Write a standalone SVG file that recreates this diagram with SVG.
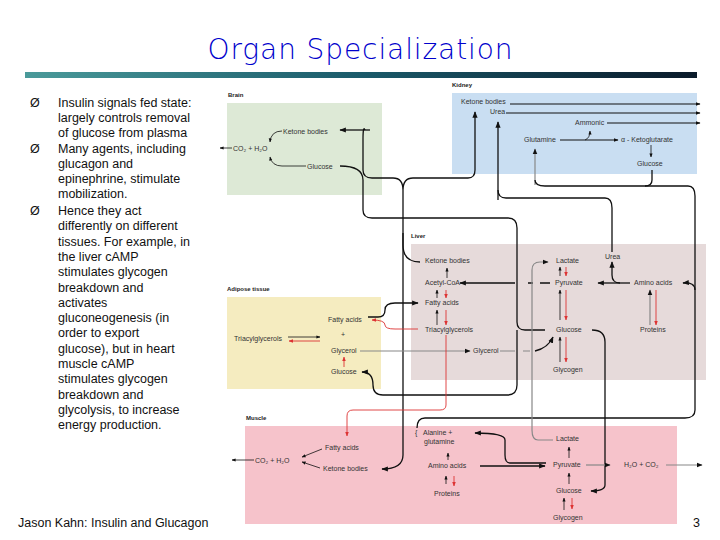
<svg xmlns="http://www.w3.org/2000/svg" width="720" height="540" viewBox="0 0 720 540">
<defs>
<marker id="a" viewBox="0 0 10 10" refX="9" refY="5" markerWidth="5" markerHeight="5" orient="auto"><path d="M0,1 L10,5 L0,9 z" fill="#111"/></marker>
<marker id="r" viewBox="0 0 10 10" refX="9" refY="5" markerWidth="5" markerHeight="5" orient="auto"><path d="M0,1 L10,5 L0,9 z" fill="#d33"/></marker>
<linearGradient id="bar" x1="0" x2="1"><stop offset="0" stop-color="#4a9a9a"/><stop offset="0.5" stop-color="#1a5a6a"/><stop offset="1" stop-color="#0a1a2a"/></linearGradient>
</defs>
<style>
.t{font-family:"Liberation Sans",Arial,sans-serif;font-size:12.5px;fill:#111}
.d{font-family:"Liberation Sans",Arial,sans-serif;font-size:7px;fill:#333}
.l{font-family:"Liberation Sans",Arial,sans-serif;font-size:6px;font-weight:bold;fill:#222}
.c{fill:none;stroke:#111;stroke-width:1.3}
.k{fill:none;stroke:#111;stroke-width:1}
.g{fill:none;stroke:#888;stroke-width:1.2}
.s{fill:none;stroke:#111;stroke-width:0.8}
.rd{fill:none;stroke:#d33;stroke-width:0.9}
</style>
<rect width="720" height="540" fill="#fff"/>
<text x="360" y="59" text-anchor="middle" font-family="DejaVu Sans,sans-serif" font-size="28" font-weight="300" fill="#0000cc" textLength="305">Organ Specialization</text>
<rect x="25" y="72" width="672" height="6" fill="url(#bar)"/>
<g class="t">
<text x="30" y="107">Ø</text><text x="30" y="153">Ø</text><text x="30" y="215">Ø</text>
<text x="58" y="107">Insulin signals fed state:</text>
<text x="58" y="122">largely controls removal</text>
<text x="58" y="137">of glucose from plasma</text>
<text x="58" y="153">Many agents, including</text>
<text x="58" y="168">glucagon and</text>
<text x="58" y="183">epinephrine, stimulate</text>
<text x="58" y="198">mobilization.</text>
<text x="58" y="215">Hence they act</text>
<text x="58" y="230">differently on different</text>
<text x="58" y="246">tissues. For example, in</text>
<text x="58" y="261">the liver cAMP</text>
<text x="58" y="276">stimulates glycogen</text>
<text x="58" y="292">breakdown and</text>
<text x="58" y="307">activates</text>
<text x="58" y="322">gluconeogenesis (in</text>
<text x="58" y="337">order to export</text>
<text x="58" y="353">glucose), but in heart</text>
<text x="58" y="368">muscle cAMP</text>
<text x="58" y="383">stimulates glycogen</text>
<text x="58" y="399">breakdown and</text>
<text x="58" y="414">glycolysis, to increase</text>
<text x="58" y="429">energy production.</text>
<text x="18" y="527">Jason Kahn: Insulin and Glucagon</text>
<text x="693" y="527">3</text>
</g>
<g id="brain"><rect x="227" y="103" width="155" height="92" fill="#dde9d6"/><text class="l" x="228" y="97">Brain</text>
<text class="d" x="283" y="134">Ketone bodies</text><text class="d" x="233" y="151">CO₂ + H₂O</text><text class="d" x="307" y="169">Glucose</text></g>
<g id="kidney"><rect x="452" y="93" width="245" height="81" fill="#c9def2"/><text class="l" x="452" y="87">Kidney</text>
<text class="d" x="461" y="104">Ketone bodies</text><text class="d" x="490" y="114">Urea</text><text class="d" x="575" y="125">Ammonic</text><text class="d" x="524" y="142">Glutamine</text><text class="d" x="621" y="142">α - Ketoglutarate</text><text class="d" x="637" y="166">Glucose</text></g>
<g id="liver"><rect x="411" y="244" width="295" height="136" fill="#e6dada"/><text class="l" x="411" y="238">Liver</text>
<text class="d" x="425" y="263">Ketone bodies</text><text class="d" x="425" y="285">Acetyl-CoA</text><text class="d" x="425" y="305">Fatty acids</text><text class="d" x="425" y="332">Triacylglycerols</text>
<text class="d" x="556" y="263">Lactate</text><text class="d" x="555" y="285">Pyruvate</text><text class="d" x="556" y="332">Glucose</text><text class="d" x="553" y="372">Glycogen</text>
<text class="d" x="605" y="259">Urea</text><text class="d" x="634" y="285">Amino acids</text><text class="d" x="640" y="332">Proteins</text><text class="d" x="473" y="353">Glycerol</text></g>
<g id="adipose"><rect x="227" y="297" width="154" height="92" fill="#f5ecc0"/><text class="l" x="227" y="291">Adipose tissue</text>
<text class="d" x="328" y="322">Fatty acids</text><text class="d" x="341" y="337">+</text><text class="d" x="234" y="341">Triacylglycerols</text><text class="d" x="331" y="353">Glycerol</text><text class="d" x="331" y="374">Glucose</text></g>
<g id="muscle"><rect x="245" y="426" width="432" height="98" fill="#f6c3cb"/><text class="l" x="246" y="420">Muscle</text>
<text class="d" x="325" y="450">Fatty acids</text><text class="d" x="255" y="463">CO₂ + H₂O</text><text class="d" x="323" y="471">Ketone bodies</text>
<text class="d" x="415" y="435">{</text><text class="d" x="423" y="435">Alanine +</text><text class="d" x="424" y="444">glutamine</text><text class="d" x="428" y="468">Amino acids</text><text class="d" x="434" y="496">Proteins</text>
<text class="d" x="556" y="441">Lactate</text><text class="d" x="553" y="467">Pyruvate</text><text class="d" x="624" y="467">H₂O + CO₂</text><text class="d" x="556" y="493">Glucose</text><text class="d" x="553" y="520">Glycogen</text></g>
<g id="connectors">
<path class="s" d="M232,148 H220" marker-end="url(#a)"/>
<path class="s" d="M282,131 Q271,131 270,142" marker-end="url(#a)"/>
<path class="s" d="M306,166 H282 Q272,166 270,157" marker-end="url(#a)"/>
<path class="c" d="M365,130 Q363,125 363,140 V170 Q363,178 372,178 H393 Q403,178 403,190 Q403,178 413,178 H468 Q475,178 475,170 V112" marker-end="url(#a)"/>
<path class="c" d="M370,130 H340" marker-end="url(#a)"/>
<path class="c" d="M403,190 V245 Q403,262 420,262"/>
<path class="c" d="M403,233 V455 Q403,469 382,469" marker-end="url(#a)"/>
<path class="c" d="M340,166 Q363,166 363,180 V210 Q363,218 372,218 H508 Q517,218 517,228 V322 Q517,330 525,330 H545"/>
<path class="c" d="M517,330 V385 Q517,395 507,395 H383 Q373,395 373,385 Q373,372 362,372" marker-end="url(#a)"/>
<path class="k" d="M510,104 H700" marker-end="url(#a)"/><path class="k" d="M506,113 H700" marker-end="url(#a)"/><path class="k" d="M607,123 H700" marker-end="url(#a)"/>
<path class="c" d="M498,200 V122" marker-end="url(#a)"/><path class="c" d="M498,190 Q498,198 506,198 H605 Q612,198 612,208 V252"/>
<path class="k" d="M560,140 H618" marker-end="url(#a)"/><path class="s" d="M585,140 Q590,138 590,131" marker-end="url(#a)"/>
<path class="s" d="M651,145 V157" marker-end="url(#a)"/>
<path class="g" d="M535,185 V149" marker-end="url(#a)"/><path class="c" d="M535,180 Q535,186 545,186 H688 Q695,186 695,196 V410 Q695,418 685,418 H425 Q417,418 417,428"/>
<path class="c" d="M652,170 V180 Q652,186 645,186"/>
<path class="c" d="M695,290 Q695,282 683,283" marker-end="url(#a)"/>
<path class="c" d="M630,283 H598" marker-end="url(#a)"/><path class="c" d="M620,283 Q612,283 612,275 V262" marker-end="url(#a)"/>
<path class="c" d="M550,283 H540 M533,283 H528 M515,283 H460" marker-end="url(#a)"/>
<path class="s" d="M560,320 V290" marker-end="url(#a)"/><path class="rd" d="M566,290 V320" marker-end="url(#r)"/>
<path class="s" d="M560,362 V337" marker-end="url(#a)"/><path class="rd" d="M566,337 V362" marker-end="url(#r)"/>
<path class="s" d="M560,276 V267" marker-end="url(#a)"/><path class="rd" d="M566,267 V276" marker-end="url(#r)"/>
<path class="g" d="M650,325 V290" marker-end="url(#a)"/><path class="rd" d="M656,290 V325" marker-end="url(#r)"/>
<path class="s" d="M447,278 V268" marker-end="url(#a)"/>
<path class="s" d="M437,298 V290" marker-end="url(#a)"/><path class="rd" d="M446,290 V298" marker-end="url(#r)"/>
<path class="s" d="M437,325 V310" marker-end="url(#a)"/><path class="rd" d="M446,310 V325" marker-end="url(#r)"/>
<path class="c" d="M368,317 H378 Q385,317 385,310 Q385,303 395,303 H418" marker-end="url(#a)"/>
<path class="rd" d="M418,329 H395 Q385,329 385,325 Q385,320 372,320" marker-end="url(#r)"/>
<path class="s" d="M288,337 H320" marker-end="url(#a)"/><path class="rd" d="M320,341 H289" marker-end="url(#r)"/>
<path class="rd" d="M344,367 V357" marker-end="url(#r)"/>
<path class="g" d="M360,351 H470" marker-end="url(#a)"/><path class="g" d="M500,351 H515 M523,351 H530"/><path class="c" d="M535,351 Q548,348 553,337" marker-end="url(#a)"/>
<path class="rd" d="M446,335 V405 Q446,410 440,410 H353 Q347,410 347,416 V436" marker-end="url(#r)"/>
<path class="g" d="M553,440 H538 Q532,440 532,430 V270 Q532,262 540,262 H548" marker-end="url(#a)"/>
<path class="c" d="M592,330 Q605,330 605,342 V485 Q605,491 591,491" marker-end="url(#a)"/>
<path class="s" d="M322,449 L302,457" marker-end="url(#a)"/><path class="s" d="M320,468 L302,462" marker-end="url(#a)"/>
<path class="s" d="M254,460 H232" marker-end="url(#a)"/>
<path class="s" d="M448,460 V453" marker-end="url(#a)"/><path class="s" d="M446,484 V476" marker-end="url(#a)"/><path class="rd" d="M454,476 V486" marker-end="url(#r)"/>
<path class="c" d="M480,466 H545" marker-end="url(#a)"/>
<path class="c" d="M546,463 H510 Q505,463 505,455 V440 Q505,433 475,433" marker-end="url(#a)"/>
<path class="g" d="M586,465 H610" marker-end="url(#a)"/><path class="g" d="M666,465 H702" marker-end="url(#a)"/>
<path class="s" d="M569,458 V447" marker-end="url(#a)"/><path class="s" d="M569,484 V473" marker-end="url(#a)"/>
<path class="s" d="M564,510 V498" marker-end="url(#a)"/><path class="rd" d="M572,498 V509" marker-end="url(#r)"/>
</g>
</svg>
